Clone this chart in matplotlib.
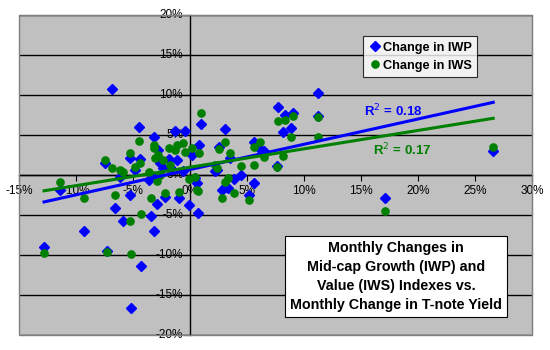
import numpy as np
import matplotlib
matplotlib.use("Agg")
import matplotlib.pyplot as plt
from matplotlib.ticker import FuncFormatter, MultipleLocator

plt.rcParams['font.family'] = ['Liberation Sans', 'DejaVu Sans']

# monthly change in T-note yield (%), IWP change (%), IWS change (%)
yield_chg = [-12.8, -11.4, -9.3, -7.5, -7.3, -6.8, -6.6, -6.1, -5.9, -5.3,
             -5.3, -5.2, -4.8, -4.5, -4.3, -4.4, -3.6, -3.4, -3.2, -3.2,
             -3.1, -2.9, -2.8, -2.6, -2.4, -2.2, -1.8, -1.75, -1.3, -1.1,
             -1.0, -0.6, -0.4, -0.1, 0.2, 0.4, 0.6, 0.7, 0.8, 1.0,
             2.2, 2.4, 2.5, 2.8, 3.1, 3.1, 3.3, 3.5, 3.9, 4.5,
             5.2, 5.6, 5.6, 6.1, 6.5, 7.6, 7.7, 8.2, 8.3, 8.9,
             9.0, 11.2, 11.2, 17.1, 26.6]
iwp_chg = [-9.0, -1.9, -7.0, 1.5, -9.5, 10.75, -4.1, -0.3, -5.7, 2.1,
           -2.5, -16.6, 0.6, 6.0, -11.4, 2.0, -0.6, -5.1, 4.75, -7.0,
           -0.25, -3.6, 3.1, 1.5, 0.9, -2.7, 2.0, 1.0, 5.5, 1.9,
           -2.9, 0.5, 5.5, -3.75, 2.5, -0.4, -1.0, -4.75, 3.75, 6.4,
           0.5, 0.6, 3.5, -1.9, 5.75, -1.5, -1.6, 2.1, -0.5, 0.0,
           -2.5, 4.1, -1.0, 3.2, 3.0, 1.1, 8.5, 5.4, 7.5, 5.9,
           7.8, 10.2, 7.4, -2.9, 3.0]
iws_chg = [-9.75, -0.9, -2.9, 1.9, -9.6, 0.9, -2.5, 0.6, 0.4, 2.75,
           -5.8, -9.9, 1.0, 4.25, -4.9, 1.5, 0.4, -2.9, 3.75, 3.4,
           2.1, -0.75, 2.5, 0.0, 1.9, -2.2, 3.4, 1.25, 3.1, 3.75,
           -2.1, 4.0, 2.9, -0.5, 3.4, -0.3, -1.9, -2.0, 2.75, 7.75,
           1.2, 0.9, 3.25, -2.9, 4.1, -0.9, -0.4, 2.75, -2.2, 1.1,
           -3.1, 3.5, 1.25, 4.1, 2.3, 1.0, 6.7, 2.4, 6.9, 4.75,
           7.4, 7.3, 4.75, -4.5, 3.5]

# linear trendlines as shown (slope, intercept) and their R^2
iwp_fit = (0.316, 0.68)
iws_fit = (0.23, 0.97)
iwp_r2 = 0.18
iws_r2 = 0.17

x = np.array(yield_chg) / 100
yp = np.array(iwp_chg) / 100
ys = np.array(iws_chg) / 100

fig = plt.figure(figsize=(5.5, 3.5), dpi=100)
ax = fig.add_axes([19 / 550, 15 / 350, 513 / 550, 320 / 350])
ax.set_facecolor('#C0C0C0')

ax.set_xlim(-0.15, 0.30)
ax.set_ylim(-0.20, 0.20)
ax.yaxis.set_major_locator(MultipleLocator(0.05))
ax.xaxis.set_major_locator(MultipleLocator(0.05))
ax.grid(axis='y', color='black', linewidth=1.0)
ax.set_axisbelow(True)

for s in ['top', 'right']:
    ax.spines[s].set_color('#808080')
ax.spines['left'].set_position(('data', 0))
ax.spines['bottom'].set_position(('data', 0))
ax.spines['left'].set_linewidth(1.0)
ax.spines['bottom'].set_linewidth(1.0)

# frame of plot area
ax.add_patch(plt.Rectangle((0, 0), 1, 1, transform=ax.transAxes, fill=False,
                           edgecolor='#808080', linewidth=1.0, zorder=5,
                           clip_on=False))

pct = FuncFormatter(lambda v, p: '%d%%' % round(v * 100))
ax.xaxis.set_major_formatter(pct)
ax.yaxis.set_major_formatter(pct)
ax.tick_params(axis='x', direction='out', length=4, labelsize=8.5, pad=3)
ax.tick_params(axis='y', direction='out', length=4, labelsize=8.5, pad=1)
for lab in ax.get_yticklabels():
    lab.set_verticalalignment('center')

ax.plot(x, yp, linestyle='none', marker='D', markersize=4.8, color='#0000FF',
        label='Change in IWP', zorder=3)
ax.plot(x, ys, linestyle='none', marker='o', markersize=5.2, color='#008000',
        label='Change in IWS', zorder=3)

xl = np.array([x.min(), x.max()])
ax.plot(xl, iwp_fit[0] * xl + iwp_fit[1] / 100, color='#0000FF', linewidth=2.2, zorder=4)
ax.plot(xl, iws_fit[0] * xl + iws_fit[1] / 100, color='#008000', linewidth=2.2, zorder=4)

ax.text(0.178, 0.080, 'R$^2$ = %.2f' % iwp_r2, color='#0000FF', fontsize=9.5,
        fontweight='bold', ha='center', va='center')
ax.text(0.186, 0.031, 'R$^2$ = %.2f' % iws_r2, color='#008000', fontsize=9.5,
        fontweight='bold', ha='center', va='center')

leg = ax.legend(loc='upper left', bbox_to_anchor=(338 / 513, 1 - 15 / 320),
                frameon=True, fancybox=False, edgecolor='black',
                prop={'weight': 'bold', 'size': 9.2}, handletextpad=0.1,
                handlelength=1.0, borderpad=0.4, labelspacing=0.5)
leg.get_frame().set_linewidth(0.8)

ax.text(0.181, -0.127,
        'Monthly Changes in\nMid-cap Growth (IWP) and\nValue (IWS) Indexes vs.\nMonthly Change in T-note Yield',
        ha='center', va='center', fontsize=10.3, fontweight='bold',
        linespacing=1.45,
        bbox=dict(boxstyle='square,pad=0.35', facecolor='white',
                  edgecolor='black', linewidth=0.8), zorder=6)

fig.savefig('out.png', dpi=100)
